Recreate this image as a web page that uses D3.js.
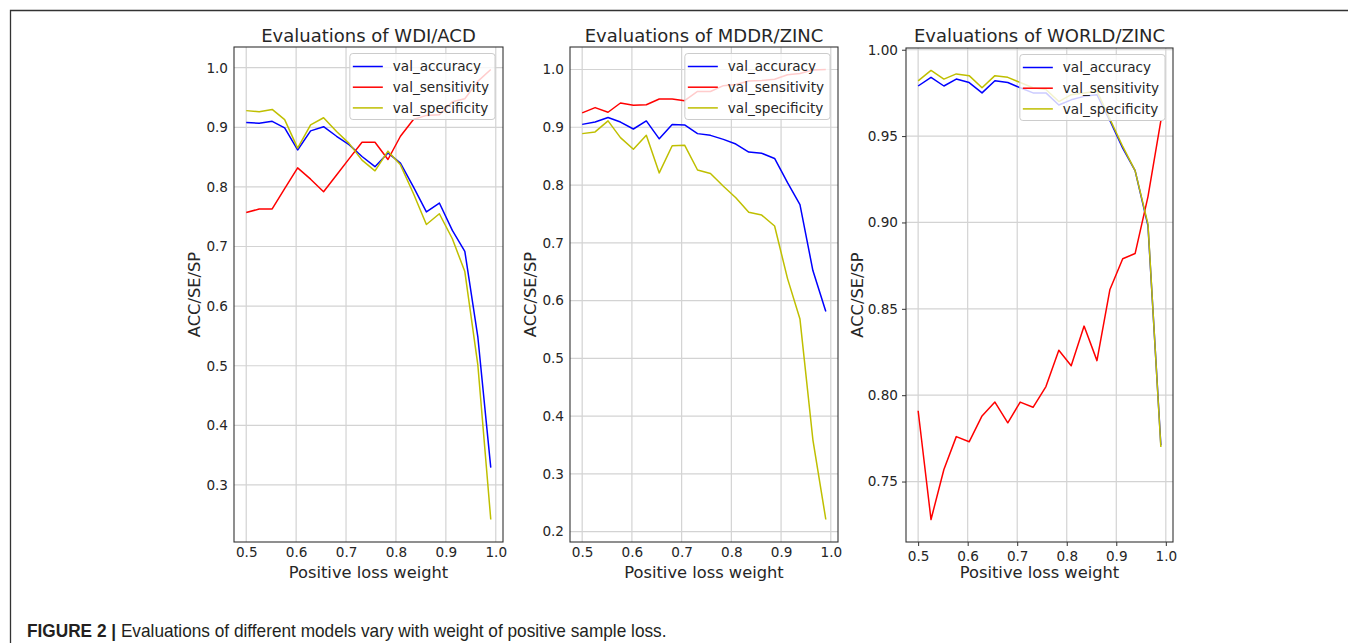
<!DOCTYPE html>
<html>
<head>
<meta charset="utf-8">
<script src="https://cdn.jsdelivr.net/npm/d3@7"></script>
<style>
  html, body { margin: 0; padding: 0; background: #fff; }
  svg { display: block; }
</style>
</head>
<body>
<svg id="chart" width="1348" height="643"></svg>
<script>
// ---------- data ----------
const weights = [0.500,0.526,0.552,0.577,0.603,0.629,0.655,0.681,0.706,0.732,0.758,0.784,0.809,0.835,0.861,0.887,0.913,0.938,0.964,0.990];

const titles = ["Evaluations of WDI/ACD", "Evaluations of MDDR/ZINC", "Evaluations of WORLD/ZINC"];
const seriesNames = ["val_accuracy", "val_sensitivity", "val_specificity"];
const seriesColors = ["#0000ff", "#ff0000", "#bfbf00"];

const wdiAccuracy    = [0.908,0.907,0.910,0.899,0.862,0.894,0.901,0.885,0.871,0.851,0.834,0.857,0.840,0.800,0.758,0.773,0.727,0.692,0.549,0.329];
const wdiSensitivity = [0.757,0.763,0.763,0.797,0.832,0.813,0.792,0.820,0.847,0.875,0.875,0.846,0.885,0.913,0.920,0.921,0.943,0.948,0.977,0.997];
const wdiSpecificity = [0.928,0.926,0.930,0.913,0.865,0.904,0.916,0.893,0.873,0.845,0.827,0.860,0.837,0.789,0.737,0.755,0.713,0.658,0.502,0.242];

const mddrAccuracy    = [0.905,0.909,0.917,0.909,0.897,0.911,0.880,0.905,0.904,0.889,0.886,0.879,0.871,0.857,0.855,0.846,0.804,0.766,0.652,0.581];
const mddrSensitivity = [0.925,0.934,0.926,0.942,0.938,0.939,0.949,0.949,0.946,0.962,0.962,0.972,0.974,0.980,0.981,0.983,0.991,0.993,0.999,1.000];
const mddrSpecificity = [0.889,0.892,0.911,0.882,0.862,0.886,0.821,0.868,0.869,0.826,0.820,0.798,0.778,0.753,0.748,0.729,0.638,0.568,0.359,0.221];

const worldAccuracy    = [0.979,0.984,0.979,0.983,0.981,0.975,0.982,0.981,0.978,0.975,0.975,0.968,0.971,0.973,0.974,0.959,0.943,0.930,0.898,0.771];
const worldSensitivity = [0.791,0.728,0.757,0.776,0.773,0.788,0.796,0.784,0.796,0.793,0.805,0.826,0.817,0.840,0.820,0.861,0.879,0.882,0.915,0.959];
const worldSpecificity = [0.982,0.988,0.983,0.986,0.985,0.978,0.985,0.984,0.981,0.978,0.977,0.970,0.974,0.975,0.976,0.960,0.944,0.930,0.899,0.770];

const xTicks = [0.5, 0.6, 0.7, 0.8, 0.9, 1.0];
const yTicksWdi   = [0.3, 0.4, 0.5, 0.6, 0.7, 0.8, 0.9, 1.0];
const yTicksMddr  = [0.2, 0.3, 0.4, 0.5, 0.6, 0.7, 0.8, 0.9, 1.0];
const yTicksWorld = [0.75, 0.80, 0.85, 0.90, 0.95, 1.00];

const xLabel = "Positive loss weight";
const yLabel = "ACC/SE/SP";
const captionBold = "FIGURE 2 |";
const captionText = " Evaluations of different models vary with weight of positive sample loss.";

// ---------- layout ----------
const panels = [
  { title: titles[0], series: [wdiAccuracy, wdiSensitivity, wdiSpecificity], yTicks: yTicksWdi, yFmt: ".1f",
    box: { left: 234, right: 503, top: 47, bottom: 542 }, yLabelX: 194, tick: 0 },
  { title: titles[1], series: [mddrAccuracy, mddrSensitivity, mddrSpecificity], yTicks: yTicksMddr, yFmt: ".1f",
    box: { left: 570, right: 838, top: 47, bottom: 542 }, yLabelX: 530, tick: 0 },
  { title: titles[2], series: [worldAccuracy, worldSensitivity, worldSpecificity], yTicks: yTicksWorld, yFmt: ".2f",
    box: { left: 906, right: 1173, top: 48, bottom: 542 }, yLabelX: 857, tick: 4 }
];

const svg = d3.select("#chart");
const FONT = "DejaVu Sans, sans-serif";
const TXT = "#262626";

// figure frame
svg.append("path")
  .attr("d", "M10.5,643 L10.5,10.5 L1348,10.5")
  .attr("fill", "none").attr("stroke", "#333").attr("stroke-width", 1.3);

panels.forEach(p => {
  const b = p.box;
  const all = p.series.flat();
  const mn = d3.min(all), mx = d3.max(all);
  const my = (mx - mn) * 0.05;
  const x = d3.scaleLinear().domain([0.5 - 0.49 * 0.05, 0.99 + 0.49 * 0.05]).range([b.left, b.right]);
  const y = d3.scaleLinear().domain([mn - my, mx + my]).range([b.bottom, b.top]);

  const g = svg.append("g");

  // grid
  g.append("g").selectAll("line.vx").data(xTicks).join("line")
    .attr("x1", d => x(d)).attr("x2", d => x(d)).attr("y1", b.top).attr("y2", b.bottom)
    .attr("stroke", "#d3d3d3").attr("stroke-width", 1.2);
  g.append("g").selectAll("line.hy").data(p.yTicks).join("line")
    .attr("x1", b.left).attr("x2", b.right).attr("y1", d => y(d)).attr("y2", d => y(d))
    .attr("stroke", "#d3d3d3").attr("stroke-width", 1.2);

  // lines
  const line = d3.line().x((d, i) => x(weights[i])).y(d => y(d));
  p.series.forEach((s, k) => {
    g.append("path").datum(s).attr("d", line)
      .attr("fill", "none").attr("stroke", seriesColors[k]).attr("stroke-width", 1.5)
      .attr("stroke-linejoin", "round");
  });

  // axes
  const xAxis = d3.axisBottom(x).tickValues(xTicks).tickFormat(d3.format(".1f")).tickSize(p.tick).tickPadding(5);
  const yAxis = d3.axisLeft(y).tickValues(p.yTicks).tickFormat(d3.format(p.yFmt)).tickSize(p.tick).tickPadding(p.tick ? 4 : 6);
  const gx = g.append("g").attr("transform", `translate(0,${b.bottom})`).call(xAxis);
  const gy = g.append("g").attr("transform", `translate(${b.left},0)`).call(yAxis);
  [gx, gy].forEach(a => {
    a.select(".domain").remove();
    a.selectAll("text").attr("font-family", FONT).attr("font-size", 13.6).attr("fill", TXT);
    a.selectAll("line").attr("stroke", "#333");
  });

  // spines
  g.append("rect").attr("x", b.left).attr("y", b.top).attr("width", b.right - b.left).attr("height", b.bottom - b.top)
    .attr("fill", "none").attr("stroke", "#333").attr("stroke-width", 1.1);

  // title
  g.append("text").attr("x", (b.left + b.right) / 2).attr("y", 42)
    .attr("text-anchor", "middle").attr("font-family", FONT).attr("font-size", 18).attr("fill", TXT)
    .text(p.title);

  // axis labels
  g.append("text").attr("x", (b.left + b.right) / 2).attr("y", 578)
    .attr("text-anchor", "middle").attr("font-family", FONT).attr("font-size", 16.3).attr("fill", TXT)
    .text(xLabel);
  g.append("text").attr("transform", `translate(${p.yLabelX},${(b.top + b.bottom) / 2}) rotate(-90)`)
    .attr("text-anchor", "middle").attr("dy", "0.35em").attr("font-family", FONT).attr("font-size", 16.3).attr("fill", TXT)
    .text(yLabel);

  // legend
  const lg = g.append("g");
  const rect = lg.append("rect").attr("rx", 3).attr("ry", 3)
    .attr("fill", "#fff").attr("fill-opacity", 0.8).attr("stroke", "#cccccc").attr("stroke-width", 1);
  let maxW = 0;
  const rowsY = [0, 20.7, 41.4];
  const texts = seriesNames.map((n, k) => {
    const t = lg.append("text").attr("font-family", FONT).attr("font-size", 13.6).attr("fill", TXT)
      .attr("dy", "0.35em").text(n);
    maxW = Math.max(maxW, t.node().getComputedTextLength());
    return t;
  });
  const w = 43 + maxW + 6;
  const lx = b.right - 8 - w;
  const ly = b.top + 6.5;
  rect.attr("x", lx).attr("y", ly).attr("width", w).attr("height", 66);
  seriesNames.forEach((n, k) => {
    const yy = ly + 13 + rowsY[k];
    lg.append("line").attr("x1", lx + 3).attr("x2", lx + 33).attr("y1", yy).attr("y2", yy)
      .attr("stroke", seriesColors[k]).attr("stroke-width", 1.5);
    texts[k].attr("x", lx + 43).attr("y", yy);
  });
});

// caption
const cap = svg.append("text").attr("x", 0).attr("y", 0)
  .attr("font-family", "Liberation Sans, Arial, sans-serif").attr("font-size", 17.5).attr("fill", "#231f20");
cap.append("tspan").attr("font-weight", "bold").text(captionBold);
cap.append("tspan").text(captionText);
const cw = cap.node().getComputedTextLength();
cap.attr("transform", `translate(27,637) scale(${640 / cw},1)`);
</script>
</body>
</html>
